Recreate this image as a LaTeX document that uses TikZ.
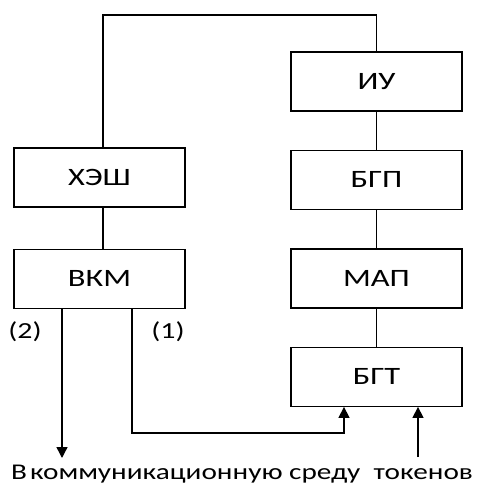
\documentclass[tikz,border=0pt]{standalone}
\usepackage{fontspec}
\setmainfont{Carlito}[FakeStretch=1.3]
\usepackage{tikz}
\usetikzlibrary{arrows.meta,positioning}

\begin{document}
\begin{tikzpicture}[x=1pt,y=-1pt,
  node distance=38pt,
  blk/.style={rectangle,draw,line width=1.4pt,minimum width=171pt,
    minimum height=59pt,inner sep=0pt,font=\fontsize{25}{28}\selectfont},
  lbl/.style={font=\fontsize{23}{26}\selectfont},
  arr/.style={-{Triangle[length=11pt,width=11pt]}},
  every path/.style={line width=1.4pt}]
  \useasboundingbox (0,0) rectangle (485,490);
  \node[blk] (iu) at (376.5,81.5) {ИУ};
  \node[blk,below=of iu] (bgp) {БГП};
  \node[blk,below=of bgp] (map) {МАП};
  \node[blk,below=of map] (bgt) {БГТ};
  \node[blk] (hash) at (99.5,177.5) {ХЭШ};
  \node[blk,below=of hash,yshift=-3pt] (vkm) {ВКМ};
  \coordinate (top) at (103,15);
  \coordinate (out) at (62,458);
  \coordinate (bend) at (132,433);
  \coordinate (tok) at (418,457);
  \draw ([xshift=3.5pt]hash.north) |- (top) -| (iu.north);
  \draw (iu) -- (bgp);
  \draw (bgp) -- (map);
  \draw (map) -- (bgt);
  \draw ([xshift=3.5pt]hash.south) -- ([xshift=3.5pt]vkm.north);
  \draw[arr] (vkm.south -| out) -- (out);
  \draw[arr] (vkm.south -| bend) -- (bend) -| ([xshift=-32.5pt]bgt.south);
  \draw[arr] (tok) -- (tok |- bgt.south);
  \node[lbl] (l2) at (25,332) {(2)};
  \node[lbl] (l1) at (168,332) {(1)};
  \node[font=\fontsize{22.5}{25}\selectfont] (dest) at (242,474)
    {В\hspace{3pt}коммуникационную среду\ \ токенов};
\end{tikzpicture}
\end{document}
